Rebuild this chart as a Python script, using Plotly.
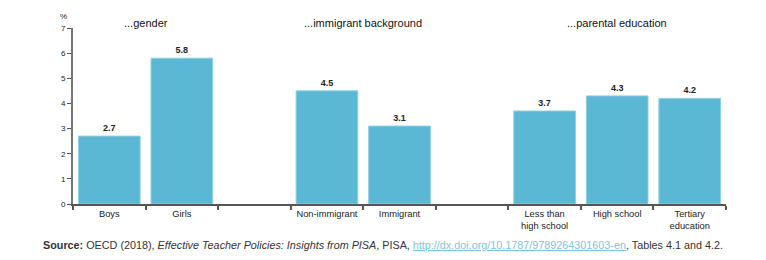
import plotly.graph_objects as go

categories = ["Boys", "Girls", " ", "Non-immigrant", "Immigrant", "  ",
              "Less than<br>high school", "High school", "Tertiary<br>education"]
values = [2.7, 5.8, None, 4.5, 3.1, None, 3.7, 4.3, 4.2]
group_titles = ["...gender", "...immigrant background", "...parental education"]
group_title_pos = [0.5, 3.5, 7]
y_ticks = [0, 1, 2, 3, 4, 5, 6, 7]

bar_color = "#5BB8D4"
font_family = "Liberation Sans, Arial, sans-serif"

fig = go.Figure()
fig.add_trace(go.Bar(
    x=categories, y=values,
    marker=dict(color=bar_color, line=dict(color="#8FD0E4", width=1)),
    text=[f"<b>{v:.1f}</b>" if v is not None else "" for v in values],
    textposition="outside",
    textfont=dict(size=9, color="#222", family=font_family),
    cliponaxis=False,
    width=0.85,
))

for t, p in zip(group_titles, group_title_pos):
    fig.add_annotation(x=p, y=1.0, xref="x", yref="paper", text=t, showarrow=False,
                       yanchor="bottom", yshift=-3,
                       font=dict(size=11, color="#111", family=font_family))

fig.add_annotation(x=-0.006, y=1.0, xref="paper", yref="paper", text="%", showarrow=False,
                   xanchor="right", yanchor="bottom", yshift=5,
                   font=dict(size=8, color="#222", family=font_family))

fig.add_annotation(
    x=-0.049, y=-0.235, xref="paper", yref="paper", showarrow=False,
    xanchor="left", yanchor="middle",
    text=("<b>Source:</b> OECD (2018), <i>Effective Teacher Policies: Insights from PISA</i>, PISA, "
          "<span style='color:#7CC4E0'><u>http://dx.doi.org/10.1787/9789264301603-en</u></span>, Tables 4.1 and 4.2."),
    font=dict(size=10.8, color="#333", family=font_family),
)

fig.update_layout(
    width=766, height=260,
    margin=dict(l=73, r=40, t=28, b=56),
    paper_bgcolor="white", plot_bgcolor="white",
    showlegend=False,
    bargap=0.15,
    font=dict(family=font_family),
    xaxis=dict(
        type="category", categoryorder="array", categoryarray=categories,
        showline=True, linecolor="#555", linewidth=1.5,
        ticks="outside", tickson="boundaries", ticklen=4, tickcolor="#555", tickwidth=1.5,
        tickfont=dict(size=9.3, color="#222", family=font_family),
        showgrid=False, zeroline=False,
    ),
    yaxis=dict(
        range=[0, 7], tickvals=y_ticks,
        showline=True, linecolor="#777", linewidth=2,
        ticks="outside", ticklen=4, tickcolor="#555", tickwidth=1,
        tickfont=dict(size=8, color="#222", family=font_family),
        showgrid=False, zeroline=False,
    ),
)

fig.write_html("out.html")
